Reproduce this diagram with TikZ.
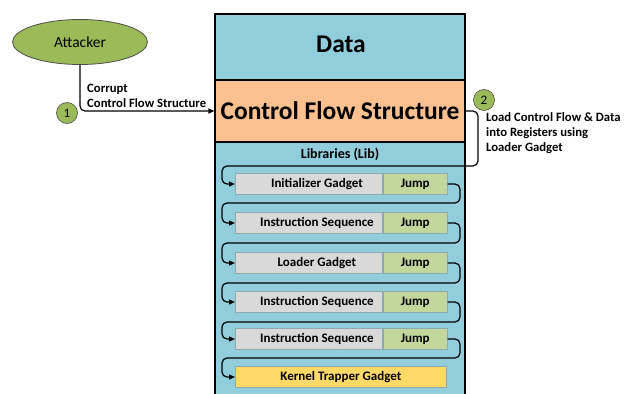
\documentclass[tikz,border=0pt]{standalone}
\usepackage{fontspec}
\setmainfont{Carlito}
\usetikzlibrary{arrows.meta,shapes.geometric}
\definecolor{boxblue}{HTML}{92CDDC}
\definecolor{cfsorange}{HTML}{FAC090}
\definecolor{olive}{HTML}{9BBB59}
\definecolor{gadgetgray}{HTML}{D9D9D9}
\definecolor{jumpgreen}{HTML}{C3D69B}
\definecolor{kernelyellow}{HTML}{FFD966}
\definecolor{gadgetborder}{HTML}{8EA9B0}
\begin{document}
\begin{tikzpicture}[x=1pt,y=-1pt,
  gadget/.style={draw=gadgetborder,line width=0.8pt,fill=gadgetgray,minimum width=147pt,minimum height=21pt,inner sep=0pt,anchor=west,font=\fontsize{13}{15}\selectfont\bfseries,execute at begin node=\hspace*{16pt}},
  jumpbox/.style={draw=gadgetborder,line width=0.8pt,fill=jumpgreen,minimum width=64pt,minimum height=21pt,inner sep=0pt,anchor=west,font=\fontsize{13}{15}\selectfont\bfseries},
  kernel/.style={draw=gadgetborder,line width=0.8pt,fill=kernelyellow,minimum width=211pt,minimum height=21pt,inner sep=0pt,anchor=west,font=\fontsize{13}{15}\selectfont\bfseries},
  conn/.style={draw=black,line width=1.2pt,rounded corners=5pt,-{Triangle[length=6pt,width=5pt]}},
  stepnum/.style={circle,draw=black!70,line width=0.6pt,fill=olive,minimum size=21pt,inner sep=0pt,font=\fontsize{13}{15}\selectfont},
  note/.style={align=left,inner sep=0pt,font=\fontsize{12.7}{15}\selectfont\bfseries}
]
\useasboundingbox (0,0) rectangle (633,394);
% main box
\fill[boxblue] (215,14) rectangle (465,394);
\node[draw=black,line width=1.2pt,fill=cfsorange,minimum width=250pt,minimum height=62pt,inner sep=0pt,font=\fontsize{25.5}{28}\selectfont\bfseries] (cfs) at (340,111) {Control Flow Structure};
\draw[line width=1.2pt] (215,394) -- (215,14) -- (465,14) -- (465,394);
\node[font=\fontsize{25.5}{28}\selectfont\bfseries] (data) at (341,44) {Data};
\node[font=\fontsize{14}{16}\selectfont\bfseries] (lib) at (340,154) {Libraries (Lib)};
% gadgets
\node[gadget] (g1) at (235,184) {Initializer Gadget};
\node[jumpbox] (j1) at (g1.east) {Jump};
\node[gadget] (g2) at (235,223) {Instruction Sequence};
\node[jumpbox] (j2) at (g2.east) {Jump};
\node[gadget] (g3) at (235,263) {Loader Gadget};
\node[jumpbox] (j3) at (g3.east) {Jump};
\node[gadget] (g4) at (235,302) {Instruction Sequence};
\node[jumpbox] (j4) at (g4.east) {Jump};
\node[gadget] (g5) at (235,339) {Instruction Sequence};
\node[jumpbox] (j5) at (g5.east) {Jump};
\node[kernel] (k) at (235,377) {Kernel Trapper Gadget};
% attacker
\node[ellipse,draw=black!70,line width=0.8pt,fill=olive,minimum width=135pt,minimum height=45pt,font=\fontsize{15.5}{18}\selectfont] (att) at (80,42) {Attacker};
\draw[conn] (att.south) |- (cfs.west);
\node[stepnum] (s1) at (67,113) {1};
\node[note,anchor=south west] (l1) at (87,108) {Corrupt\\Control Flow Structure};
% step 2
\node[stepnum] (s2) at (484,100) {2};
\node[note,anchor=north west] (l2) at (486,112) {Load Control Flow \& Data\\into Registers using\\Loader Gadget};
\draw[conn] (cfs.east) -- (478,111) -- (478,166) -- (222,166) -- (222,184) -- (g1.west);
% chain
\draw[conn] (j1.east) -- (460,184) -- (460,203) -- (222,203) -- (222,223) -- (g2.west);
\draw[conn] (j2.east) -- (460,223) -- (460,243) -- (222,243) -- (222,263) -- (g3.west);
\draw[conn] (j3.east) -- (460,263) -- (460,283) -- (222,283) -- (222,302) -- (g4.west);
\draw[conn] (j4.east) -- (460,302) -- (460,322) -- (222,322) -- (222,339) -- (g5.west);
\draw[conn] (j5.east) -- (460,339) -- (460,358) -- (222,358) -- (222,377) -- (k.west);
\end{tikzpicture}
\end{document}
